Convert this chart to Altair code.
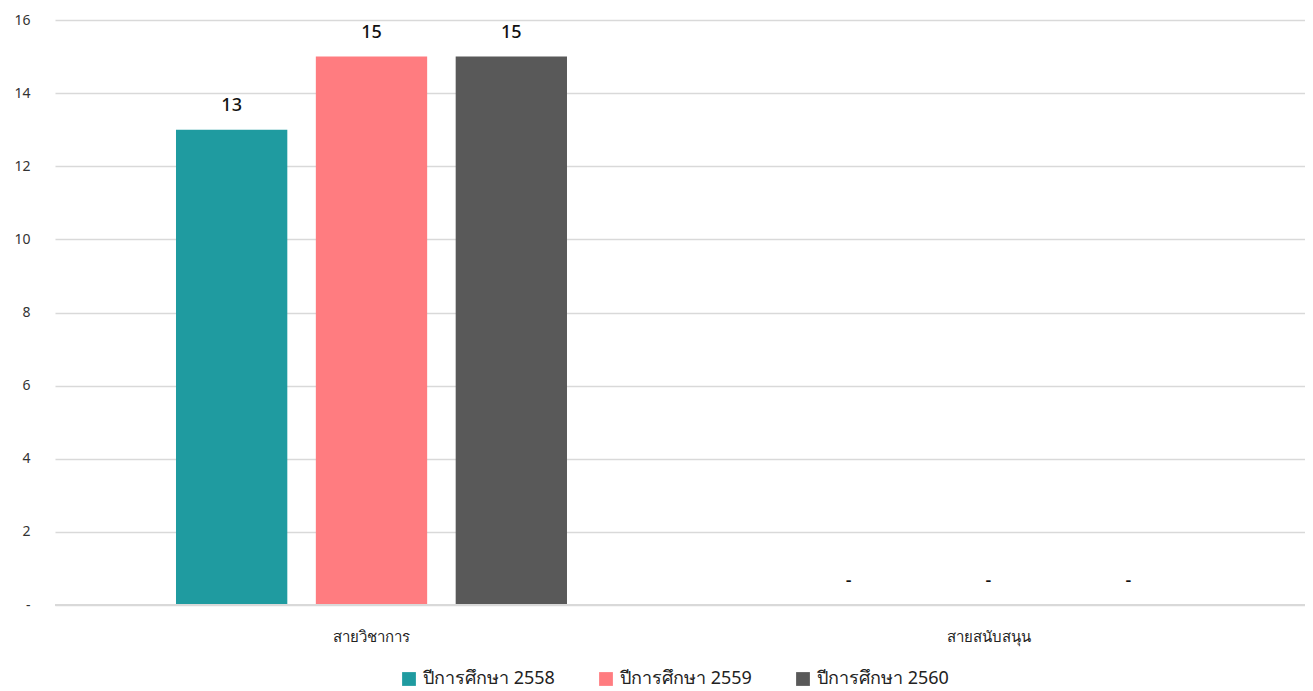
import altair as alt
import pandas as pd

categories = ["สายวิชาการ", "สายสนับสนุน"]
series = ["ปีการศึกษา 2558", "ปีการศึกษา 2559", "ปีการศึกษา 2560"]
values = {
    "ปีการศึกษา 2558": [13, 0],
    "ปีการศึกษา 2559": [15, 0],
    "ปีการศึกษา 2560": [15, 0],
}
colors = ["#1f9ba0", "#ff7c80", "#595959"]

rows = []
for s in series:
    for c, v in zip(categories, values[s]):
        rows.append({"cat": c, "series": s, "value": v, "label": str(v) if v != 0 else "-"})
df = pd.DataFrame(rows)

FONT = "Noto Sans"

x = alt.X("cat:N", sort=categories, title=None,
          scale=alt.Scale(paddingInner=0.3663, paddingOuter=0.1961),
          axis=alt.Axis(labelAngle=0, labelFontSize=15, labelColor="#222222", labelFont=FONT,
                        ticks=False, domain=False, labelPadding=24))
xo = alt.XOffset("series:N", sort=series, scale=alt.Scale(paddingInner=0.204, paddingOuter=0))

base = alt.Chart(df).encode(x=x, xOffset=xo)

bars = base.mark_bar().encode(
    y=alt.Y("value:Q", title=None,
            scale=alt.Scale(domain=[0, 16], nice=False),
            axis=alt.Axis(values=[0, 2, 4, 6, 8, 10, 12, 14, 16],
                          labelExpr="datum.value == 0 ? '-' : datum.label",
                          ticks=False, domain=False, labelFontSize=14, labelColor="#333333",
                          labelFont=FONT, labelPadding=25,
                          gridColor="#d9d9d9", gridWidth=1.5)),
    color=alt.Color("series:N", sort=series, scale=alt.Scale(domain=series, range=colors),
                    legend=alt.Legend(title=None, orient="none", direction="horizontal",
                                      legendX=345, legendY=650,
                                      symbolType="square", symbolSize=190, symbolStrokeWidth=0,
                                      labelFontSize=18, labelFont=FONT, labelColor="#222222",
                                      columnPadding=42, labelOffset=5)),
)

labels = base.mark_text(dy=-24, fontSize=18, font=FONT, fontWeight=500, color="#111111").encode(
    y=alt.Y("value:Q"),
    text="label:N",
)

rule = alt.Chart(pd.DataFrame({"v": [0]})).mark_rule(color="#d9d9d9", strokeWidth=2).encode(y="v:Q")

chart = alt.layer(bars, rule, labels).properties(
    width=1250, height=585,
    padding={"left": 47, "top": 12, "right": 0, "bottom": 86},
    autosize=alt.AutoSizeParams(type="none"),
).configure_view(stroke=None)

chart.save("out.html", embed_options={"renderer": "svg", "actions": False})
